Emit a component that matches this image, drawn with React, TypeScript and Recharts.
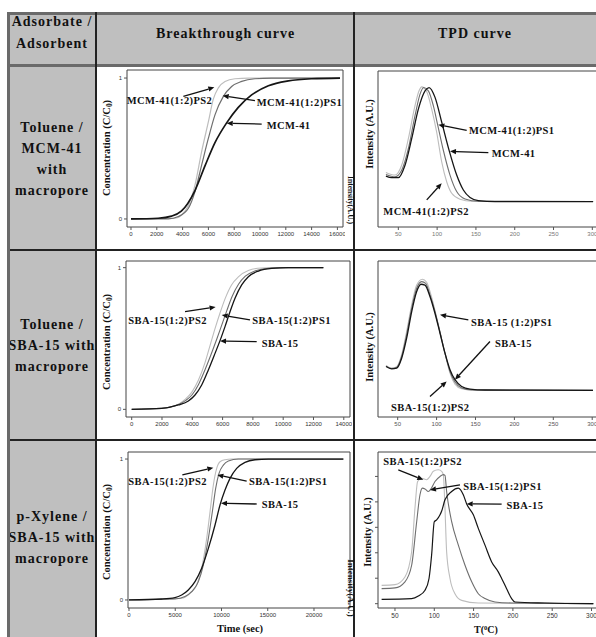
import React from 'react';
import { LineChart, Line, XAxis, YAxis, ReferenceArea, ReferenceLine, ReferenceDot } from 'recharts';

type Pt = [number, number];
type Note = { text: string; tail: Pt; head: Pt; at: Pt };

const SERIF = '"Liberation Serif", "Times New Roman", serif';
const SANS = '"Liberation Sans", Arial, sans-serif';

const BLACK = '#151515';
const MID = '#6e6e6e';
const LIGHT = '#bdbdbd';

// ---- Toluene / MCM-41 : breakthrough (time s, C/C0)
const BT1_MCM41: Pt[] = [[0, 0], [2100, 0.005], [3150, 0.02], [3900, 0.055], [4950, 0.2], [5750, 0.38], [6500, 0.54], [7400, 0.68], [8300, 0.79], [9350, 0.88], [10650, 0.945], [12200, 0.98], [14000, 0.995], [16200, 1]];
const BT1_PS1: Pt[] = [[0, 0], [2900, 0], [3670, 0.017], [4450, 0.076], [4960, 0.194], [5480, 0.384], [6000, 0.573], [6510, 0.739], [7160, 0.87], [7800, 0.94], [8580, 0.976], [9610, 0.995], [10900, 1], [16200, 1]];
const BT1_PS2: Pt[] = [[0, 0], [3410, 0.005], [3930, 0.028], [4450, 0.095], [4960, 0.24], [5480, 0.48], [6000, 0.69], [6380, 0.85], [6770, 0.93], [7290, 0.975], [8060, 0.995], [9100, 1], [16200, 1]];
const BT1_TICKS = [0, 2000, 4000, 6000, 8000, 10000, 12000, 14000, 16000];
const BT1_NOTES: Note[] = [
  { text: 'MCM-41(1:2)PS2', tail: [4060, 0.87], head: [6460, 0.934], at: [-336, 0.841] },
  { text: 'MCM-41(1:2)PS1', tail: [9610, 0.84], head: [7110, 0.874], at: [9750, 0.829] },
  { text: 'MCM-41', tail: [10130, 0.673], head: [7420, 0.68], at: [10520, 0.661] },
];

// ---- Toluene / MCM-41 : TPD (T degC, intensity a.u.)
const TPD1_MCM41: Pt[] = [[34, 32.6], [41.5, 31.6], [50, 31.6], [58.6, 39.6], [67.2, 56.6], [75.8, 75.6], [84.4, 87.3], [89.6, 89.4], [97.3, 83.1], [105.9, 67.2], [115.8, 48.5], [125.2, 33.3], [133.8, 23.7], [142.4, 18.9], [153.1, 16.9], [174.6, 16.3], [301, 16.3]];
const TPD1_PS1: Pt[] = [[34, 33.7], [45.7, 32.2], [54.3, 36.4], [62.9, 50.2], [71.5, 71.4], [78, 85.2], [82.7, 89.4], [88.7, 87.3], [95.1, 77.8], [100.7, 65.5], [108, 49.2], [116.6, 33.3], [125.2, 22.7], [136, 18], [153.1, 16.5], [301, 16.3]];
const TPD1_PS2: Pt[] = [[34, 35], [45.7, 33.3], [54.3, 39.6], [62.9, 56.6], [71.5, 77.8], [76.7, 87.3], [80.1, 89.8], [86.6, 86.7], [93, 75.6], [99.4, 60.8], [105.9, 41.7], [112.3, 29], [118.8, 21.6], [129.5, 17.8], [144.6, 16.5], [301, 16.3]];
const TPD_TICKS = [50, 100, 150, 200, 250, 300];
const TPD1_NOTES: Note[] = [
  { text: 'MCM-41(1:2)PS1', tail: [138.1, 61.9], head: [101.6, 65.5], at: [141.1, 61.9] },
  { text: 'MCM-41', tail: [166, 47.7], head: [116.6, 48.5], at: [170.3, 47] },
  { text: 'MCM-41(1:2)PS2', tail: [86.6, 17.4], head: [105.9, 28], at: [30.7, 10] },
];

// ---- Toluene / SBA-15 : breakthrough
const BT2_SBA15: Pt[] = [[0, 0], [1980, 0.007], [3080, 0.031], [3740, 0.059], [4180, 0.101], [4620, 0.172], [5060, 0.278], [5500, 0.395], [5830, 0.485], [6160, 0.584], [6490, 0.689], [6820, 0.784], [7260, 0.878], [7700, 0.936], [8360, 0.976], [9240, 0.995], [10340, 1], [12650, 1]];
const BT2_PS1: Pt[] = [[0, 0], [1980, 0.007], [3080, 0.034], [3600, 0.065], [4000, 0.105], [4420, 0.178], [4860, 0.285], [5300, 0.405], [5630, 0.5], [5960, 0.6], [6290, 0.7], [6620, 0.795], [7060, 0.885], [7500, 0.94], [8160, 0.978], [9040, 0.996], [10140, 1], [12650, 1]];
const BT2_PS2: Pt[] = [[0, 0], [1980, 0.008], [3080, 0.036], [3520, 0.07], [3960, 0.12], [4400, 0.205], [4840, 0.33], [5170, 0.45], [5500, 0.57], [5830, 0.68], [6160, 0.78], [6600, 0.88], [7040, 0.935], [7700, 0.98], [8580, 0.998], [9240, 1], [12650, 1]];
const BT2_TICKS = [0, 2000, 4000, 6000, 8000, 10000, 12000, 14000];
const BT2_NOTES: Note[] = [
  { text: 'SBA-15(1:2)PS2', tail: [3520, 0.689], head: [5540, 0.722], at: [-222, 0.624] },
  { text: 'SBA-15(1:2)PS1', tail: [7810, 0.631], head: [5940, 0.666], at: [7960, 0.624] },
  { text: 'SBA-15', tail: [8250, 0.478], head: [5830, 0.482], at: [8580, 0.466] },
];

// ---- Toluene / SBA-15 : TPD
const TPD2_SBA15: Pt[] = [[35, 32.4], [42.2, 30.9], [48.7, 31.3], [55.1, 37.7], [61.5, 50.5], [68, 67.6], [74.4, 80.4], [79.9, 85.1], [85.1, 84.6], [91.5, 77.2], [97.9, 66.5], [104.4, 53.7], [110.8, 40.9], [117.2, 30.3], [123.6, 23.9], [132.2, 19.6], [142.9, 17.9], [162.2, 17.3], [301, 17.1]];
const TPD2_PS1: Pt[] = [[35, 32.6], [42.2, 31.1], [48.7, 31.8], [55.1, 38.8], [61.5, 52.7], [68, 69.7], [74.4, 82.5], [80.8, 86.8], [86, 85.7], [91.5, 78.3], [97.9, 67.6], [104.4, 54.4], [110.8, 40.9], [117.2, 29.2], [123.6, 22.4], [132.2, 18.6], [145.1, 17.3], [301, 17.1]];
const TPD2_PS2: Pt[] = [[35, 33], [42.2, 31.3], [48.7, 32.2], [55.1, 39.9], [61.5, 54.8], [68, 71.9], [74.4, 84.6], [81.7, 88.3], [87.2, 86.4], [92.8, 78.3], [98.8, 66.5], [105.2, 52.7], [111.7, 38.8], [117.2, 28.1], [123.6, 21.1], [132.2, 18.1], [145.1, 17.3], [301, 17.1]];
const TPD2_NOTES: Note[] = [
  { text: 'SBA-15 (1:2)PS1', tail: [140.8, 62.3], head: [104.4, 65.5], at: [144.2, 60.8] },
  { text: 'SBA-15', tail: [168.6, 48.4], head: [123.6, 23.9], at: [175.1, 46.9] },
  { text: 'SBA-15(1:2)PS2', tail: [91.5, 13.2], head: [112.9, 22.8], at: [41.4, 5.8] },
];

// ---- p-Xylene / SBA-15 : breakthrough
const BT3_SBA15: Pt[] = [[0, 0], [3530, 0.007], [4970, 0.017], [5690, 0.035], [6410, 0.071], [7135, 0.13], [7855, 0.225], [8580, 0.366], [9300, 0.532], [9840, 0.674], [10380, 0.78], [10920, 0.863], [11640, 0.934], [12540, 0.976], [13620, 0.995], [15060, 1], [23170, 1]];
const BT3_PS1: Pt[] = [[0, 0], [4970, 0.007], [6050, 0.024], [6770, 0.059], [7500, 0.13], [8035, 0.248], [8580, 0.437], [9010, 0.626], [9370, 0.792], [9730, 0.898], [10200, 0.957], [10740, 0.986], [11820, 1], [23170, 1]];
const BT3_PS2: Pt[] = [[0, 0], [5690, 0.012], [6590, 0.047], [7315, 0.106], [7855, 0.225], [8400, 0.437], [8760, 0.626], [9120, 0.816], [9480, 0.934], [9840, 0.981], [10380, 0.995], [11100, 1], [23170, 1]];
const BT3_TICKS = [0, 5000, 10000, 15000, 20000];
const BT3_NOTES: Note[] = [
  { text: 'SBA-15(1:2)PS2', tail: [5765, 0.887], head: [9116, 0.939], at: [-72, 0.844] },
  { text: 'SBA-15(1:2)PS1', tail: [12720, 0.844], head: [9550, 0.887], at: [12970, 0.844] },
  { text: 'SBA-15', tail: [13800, 0.681], head: [9945, 0.686], at: [14340, 0.674] },
];

// ---- p-Xylene / SBA-15 : TPD
const TPD3_SBA15: Pt[] = [[33, 0.17], [71.2, 0.2], [79.7, 0.3], [88.2, 0.53], [93.3, 0.99], [96.6, 1.91], [100, 3.22], [103, 3.29], [107.3, 3.49], [109.4, 3.64], [113.6, 4.08], [122.1, 4.41], [130.6, 4.54], [136.9, 4.28], [141.2, 3.92], [149.7, 3.49], [156, 2.96], [164.5, 2.3], [173, 1.64], [181.4, 1.25], [185.7, 0.99], [192, 0.59], [198.4, 0.2], [202.7, 0.066], [240.8, 0.026], [302.3, 0]];
const TPD3_PS1: Pt[] = [[33, 0.59], [50, 0.62], [62.7, 0.86], [71.2, 1.51], [77.6, 3.22], [81.8, 4.28], [84.8, 4.54], [88.2, 4.51], [92.4, 4.41], [95.8, 4.51], [100.9, 4.8], [107.3, 5], [111.5, 5.07], [113.6, 5.04], [115.7, 4.41], [122.1, 3.22], [130.6, 2.3], [139.1, 1.51], [147.6, 0.86], [156, 0.39], [164.5, 0.2], [177.2, 0.066], [198.4, 0.026], [302.3, 0]];
const TPD3_PS2: Pt[] = [[33, 0.72], [50, 0.75], [62.7, 1.05], [71.2, 2.04], [75.4, 3.75], [78.8, 4.8], [83.9, 4.93], [90.3, 4.87], [94.5, 5], [98.8, 5.2], [105.1, 5.26], [109.4, 5.2], [111.5, 5.07], [113.6, 3.75], [115.7, 2.04], [120, 0.99], [126.3, 0.39], [134.8, 0.13], [156, 0.026], [302.3, 0]];
const TPD3_YTICKS = [0, 1, 2, 3, 4, 5];
const TPD3_NOTES: Note[] = [
  { text: 'SBA-15(1:2)PS2', tail: [54.2, 5.26], head: [86, 4.87], at: [35.2, 5.59] },
  { text: 'SBA-15(1:2)PS1', tail: [132.7, 4.67], head: [94.5, 4.47], at: [136.9, 4.61] },
  { text: 'SBA-15', tail: [185.7, 3.91], head: [141.2, 3.92], at: [192, 3.84] },
];

const ROW_LABELS = [
  ['Toluene /', 'MCM-41', 'with', 'macropore'],
  ['Toluene /', 'SBA-15 with', 'macropore'],
  ['p-Xylene /', 'SBA-15 with', 'macropore'],
];

const YW = 26;
const XH = 18;
const PAD = 2;

const arrowShape = (p: any) => {
  const { x1, y1, x2, y2 } = p;
  const a = Math.atan2(y2 - y1, x2 - x1);
  const L = 6;
  const W = 2.6;
  const bx = x2 - L * Math.cos(a);
  const by = y2 - L * Math.sin(a);
  const pts = [
    [x2, y2],
    [bx + W * Math.sin(a), by - W * Math.cos(a)],
    [bx - W * Math.sin(a), by + W * Math.cos(a)],
  ];
  return (
    <g>
      <line x1={x1} y1={y1} x2={bx} y2={by} stroke="#111" strokeWidth={1.3} />
      <polygon points={pts.map((q) => q.join(',')).join(' ')} fill="#111" />
    </g>
  );
};

type Series = { data: Pt[]; color: string; width: number };

function Panel(props: {
  box: { left: number; top: number; width: number; height: number };
  xDomain: [number, number];
  yDomain: [number, number];
  xTicks: number[];
  yTicks?: number[];
  yLabels?: boolean;
  tickColor: string;
  tickSize?: number;
  series: Series[];
  notes: Note[];
}) {
  const { box, xDomain, yDomain, xTicks, yTicks, yLabels, tickColor, series, notes } = props;
  const fs = props.tickSize || 6;
  return (
    <div style={{ position: 'absolute', left: box.left - YW, top: box.top - PAD }}>
      <LineChart
        width={box.width + YW + PAD}
        height={box.height + PAD + XH}
        margin={{ top: PAD, right: PAD, bottom: 0, left: 0 }}
      >
        <XAxis
          type="number"
          dataKey="x"
          domain={xDomain}
          ticks={xTicks}
          interval={0}
          allowDataOverflow
          axisLine={false}
          tickSize={3}
          tickLine={{ stroke: '#555' }}
          tick={{ fontSize: fs, fill: tickColor, fontFamily: SANS }}
          height={XH}
        />
        {yTicks ? (
          <YAxis
            type="number"
            domain={yDomain}
            ticks={yTicks}
            interval={0}
            allowDataOverflow
            axisLine={false}
            tickSize={3}
            tickLine={{ stroke: '#555' }}
            tick={{ fontSize: fs, fill: tickColor, fontFamily: SANS }}
            tickFormatter={(v: number) => (yLabels ? String(v) : '')}
            width={YW}
          />
        ) : (
          <YAxis type="number" domain={yDomain} allowDataOverflow axisLine={false} tick={false} tickLine={false} width={YW} />
        )}
        <ReferenceArea
          x1={xDomain[0]}
          x2={xDomain[1]}
          y1={yDomain[0]}
          y2={yDomain[1]}
          fill="none"
          fillOpacity={0}
          stroke="#444"
          strokeWidth={1}
          ifOverflow="visible"
        />
        {series.map((s, i) => (
          <Line
            key={i}
            data={s.data.map(([x, y]) => ({ x, y }))}
            dataKey="y"
            type="monotone"
            stroke={s.color}
            strokeWidth={s.width}
            dot={false}
            activeDot={false}
            isAnimationActive={false}
          />
        ))}
        {notes.map((n, i) => (
          <ReferenceLine
            key={'a' + i}
            segment={[{ x: n.tail[0], y: n.tail[1] }, { x: n.head[0], y: n.head[1] }]}
            ifOverflow="visible"
            shape={arrowShape}
          />
        ))}
        {notes.map((n, i) => (
          <ReferenceDot
            key={'t' + i}
            x={n.at[0]}
            y={n.at[1]}
            r={0}
            ifOverflow="visible"
            shape={(p: any) => (
              <text
                x={p.cx}
                y={p.cy}
                dominantBaseline="central"
                fontFamily={SERIF}
                fontWeight={700}
                fontSize={10.5}
                letterSpacing={0.4}
                fill="#111"
              >
                {n.text}
              </text>
            )}
          />
        ))}
      </LineChart>
    </div>
  );
}

function VText(props: { x: number; y: number; deg: number; size: number; children: React.ReactNode }) {
  return (
    <div
      style={{
        position: 'absolute',
        left: props.x,
        top: props.y,
        transform: `translate(-50%, -50%) rotate(${props.deg}deg)`,
        whiteSpace: 'nowrap',
        fontFamily: SERIF,
        fontWeight: 700,
        fontSize: props.size,
        lineHeight: 1,
        color: '#111',
      }}
    >
      {props.children}
    </div>
  );
}

const conc = (
  <span>
    Concentration (C/C<sub style={{ fontSize: '0.7em', verticalAlign: '-0.25em' }}>0</sub>)
  </span>
);

const hline = (top: number, h: number, color: string) => (
  <div style={{ position: 'absolute', left: 7, right: 0, top, height: h, background: color }} />
);
const vline = (left: number, w: number, color: string, top = 12) => (
  <div style={{ position: 'absolute', top, bottom: 0, left, width: w, background: color }} />
);

const cellText: React.CSSProperties = {
  position: 'absolute',
  display: 'flex',
  flexDirection: 'column',
  alignItems: 'center',
  justifyContent: 'center',
  fontFamily: SERIF,
  fontWeight: 700,
  fontSize: 14,
  letterSpacing: 1,
  lineHeight: '21px',
  color: '#111',
  whiteSpace: 'nowrap',
};

export default function App() {
  const rowBoxes = [
    [67, 183],
    [251, 189],
    [441, 193],
  ];
  return (
    <div style={{ position: 'absolute', left: 0, top: 0, width: 596, height: 637, overflow: 'hidden', background: '#fff' }}>
      {/* table backgrounds */}
      <div style={{ position: 'absolute', left: 8, right: 0, top: 12, height: 54, background: '#bfbfbf' }} />
      <div style={{ position: 'absolute', left: 8, width: 88, top: 12, bottom: 0, background: '#bfbfbf' }} />

      {/* header */}
      <div style={{ ...cellText, left: 8, width: 88, top: 12, height: 42, lineHeight: '22px' }}>
        <div>Adsorbate /</div>
        <div>Adsorbent</div>
      </div>
      <div style={{ ...cellText, left: 97, width: 257, top: 12, height: 42 }}>Breakthrough curve</div>
      <div style={{ ...cellText, left: 354, width: 242, top: 12, height: 42 }}>TPD curve</div>

      {ROW_LABELS.map((lines, i) => (
        <div key={i} style={{ ...cellText, left: 8, width: 88, top: rowBoxes[i][0], height: rowBoxes[i][1] }}>
          {lines.map((l) => (
            <div key={l}>{l}</div>
          ))}
        </div>
      ))}

      {/* grid lines */}
      {hline(12, 3, '#6a6a6a')}
      {hline(64, 3, '#6a6a6a')}
      {hline(249, 2, '#222')}
      {hline(439, 2, '#222')}
      {vline(7, 3, '#6a6a6a')}
      {vline(95, 2, '#222')}
      {vline(353, 2, '#222')}

      {/* row 1 */}
      <Panel
        box={{ left: 127, top: 70, width: 216, height: 157 }}
        xDomain={[-310, 16434]}
        yDomain={[-0.057, 1.057]}
        xTicks={BT1_TICKS}
        yTicks={[0, 1]}
        yLabels
        tickColor="#333"
        series={[
          { data: BT1_PS2, color: LIGHT, width: 1.2 },
          { data: BT1_PS1, color: MID, width: 1.2 },
          { data: BT1_MCM41, color: BLACK, width: 1.7 },
        ]}
        notes={BT1_NOTES}
      />
      <Panel
        box={{ left: 378, top: 71, width: 222, height: 156 }}
        xDomain={[23.8, 309.9]}
        yDomain={[0, 100]}
        xTicks={TPD_TICKS}
        tickColor="#777"
        series={[
          { data: TPD1_PS2, color: LIGHT, width: 1.1 },
          { data: TPD1_PS1, color: MID, width: 1.1 },
          { data: TPD1_MCM41, color: BLACK, width: 1.3 },
        ]}
        notes={TPD1_NOTES}
      />

      {/* row 2 */}
      <Panel
        box={{ left: 126, top: 261, width: 224, height: 156 }}
        xDomain={[-376, 14410]}
        yDomain={[-0.054, 1.047]}
        xTicks={BT2_TICKS}
        yTicks={[0, 1]}
        yLabels
        tickColor="#333"
        series={[
          { data: BT2_PS2, color: LIGHT, width: 1.1 },
          { data: BT2_PS1, color: MID, width: 1.1 },
          { data: BT2_SBA15, color: BLACK, width: 1.3 },
        ]}
        notes={BT2_NOTES}
      />
      <Panel
        box={{ left: 378, top: 261, width: 222, height: 156 }}
        xDomain={[24.7, 310]}
        yDomain={[0, 100]}
        xTicks={TPD_TICKS}
        tickColor="#555"
        series={[
          { data: TPD2_PS2, color: LIGHT, width: 1.1 },
          { data: TPD2_PS1, color: MID, width: 1.1 },
          { data: TPD2_SBA15, color: BLACK, width: 1.3 },
        ]}
        notes={TPD2_NOTES}
      />

      {/* row 3 */}
      <Panel
        box={{ left: 128, top: 452, width: 222, height: 156 }}
        xDomain={[-108, 23892]}
        yDomain={[-0.057, 1.05]}
        xTicks={BT3_TICKS}
        yTicks={[0, 1]}
        yLabels
        tickColor="#333"
        series={[
          { data: BT3_PS2, color: LIGHT, width: 1.1 },
          { data: BT3_PS1, color: MID, width: 1.1 },
          { data: BT3_SBA15, color: BLACK, width: 1.3 },
        ]}
        notes={BT3_NOTES}
      />
      <Panel
        box={{ left: 378, top: 452, width: 222, height: 156 }}
        xDomain={[28.4, 310.8]}
        yDomain={[-0.17, 5.96]}
        xTicks={TPD_TICKS}
        yTicks={TPD3_YTICKS}
        tickColor="#333"
        tickSize={6.5}
        series={[
          { data: TPD3_PS2, color: LIGHT, width: 1.1 },
          { data: TPD3_PS1, color: MID, width: 1.1 },
          { data: TPD3_SBA15, color: BLACK, width: 1.2 },
        ]}
        notes={TPD3_NOTES}
      />

      {/* axis titles */}
      <VText x={108} y={148} deg={-90} size={10.5}>{conc}</VText>
      <VText x={108} y={342} deg={-90} size={10.5}>{conc}</VText>
      <VText x={108} y={532} deg={-90} size={10.5}>{conc}</VText>
      <VText x={370} y={134} deg={-90} size={10.5}>Intensity (A.U.)</VText>
      <VText x={370} y={347} deg={-90} size={10.5}>Intensity (A.U.)</VText>
      <VText x={368} y={532} deg={-90} size={10.5}>Intensity (A.U.)</VText>
      <VText x={350} y={200} deg={90} size={7.5}>Intensity(A.U.)</VText>
      <VText x={350} y={588} deg={90} size={9}>Intensity(A.U.)</VText>
      <VText x={240} y={629} deg={0} size={10.5}>Time (sec)</VText>
      <VText x={486} y={630} deg={0} size={10}>
        <span>
          T(<sup style={{ fontSize: '0.65em', verticalAlign: '0.45em' }}>0</sup>C)
        </span>
      </VText>
    </div>
  );
}
